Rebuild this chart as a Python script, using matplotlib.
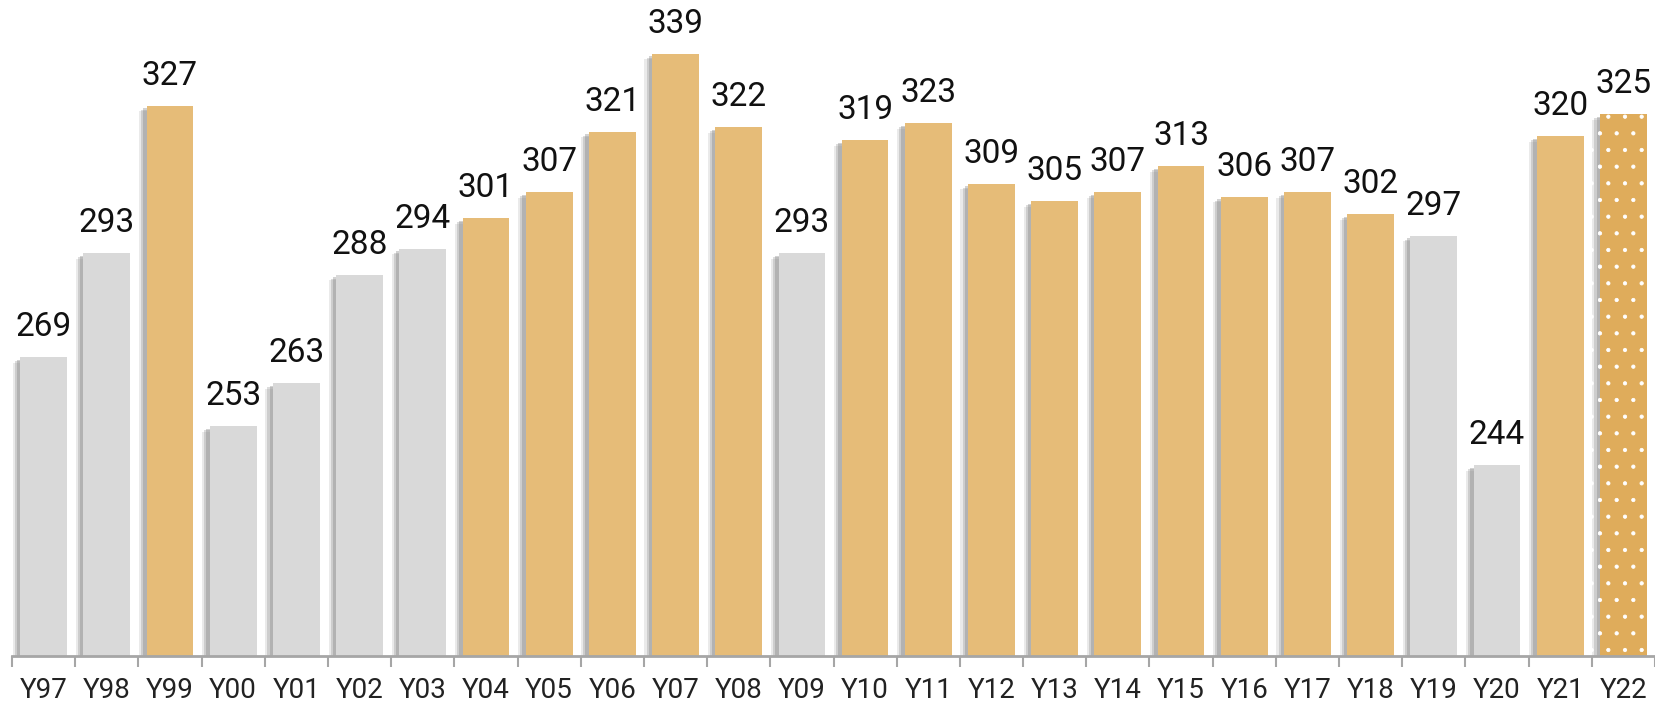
import numpy as np
import matplotlib.pyplot as plt
import matplotlib.patheffects as pe

plt.rcParams['font.family'] = ['Roboto', 'DejaVu Sans']
plt.rcParams['hatch.linewidth'] = 0.6

years = ['Y97', 'Y98', 'Y99', 'Y00', 'Y01', 'Y02', 'Y03', 'Y04', 'Y05', 'Y06',
         'Y07', 'Y08', 'Y09', 'Y10', 'Y11', 'Y12', 'Y13', 'Y14', 'Y15', 'Y16',
         'Y17', 'Y18', 'Y19', 'Y20', 'Y21', 'Y22']
values = [269, 293, 327, 253, 263, 288, 294, 301, 307, 321,
          339, 322, 293, 319, 323, 309, 305, 307, 313, 306,
          307, 302, 297, 244, 320, 325]
grey_years = ['Y97', 'Y98', 'Y00', 'Y01', 'Y02', 'Y03', 'Y09', 'Y19', 'Y20']
dotted_years = ['Y22']

grey = '#d9d9d9'
gold = '#e6bc78'
gold_dark = '#dfac5b'

fig = plt.figure(figsize=(16.55, 7.05), dpi=100)
ax = fig.add_axes([12/1655, 49/705, 1643/1655, 650/705])

x = np.arange(len(years))
# soft-ish shadow on the left/bottom, stacked layers
shadow = [pe.SimplePatchShadow(offset=(-5.5, -4), shadow_rgbFace='#9a9a9a', alpha=0.2),
          pe.SimplePatchShadow(offset=(-4, -3), shadow_rgbFace='#8c8c8c', alpha=0.3),
          pe.SimplePatchShadow(offset=(-2.5, -2), shadow_rgbFace='#808080', alpha=0.35),
          pe.Normal()]
for i, (yr, v) in enumerate(zip(years, values)):
    if yr in dotted_years:
        b = ax.bar(i, v - 200, bottom=200, width=0.74, color=gold_dark,
                   hatch='.', edgecolor='white', linewidth=0)
    else:
        c = grey if yr in grey_years else gold
        b = ax.bar(i, v - 200, bottom=200, width=0.74, color=c, linewidth=0)
    b[0].set_path_effects(shadow)
    ax.annotate(str(v), (i, v), xytext=(0, 10), textcoords='offset points',
                ha='center', va='bottom', fontsize=24, color='#111111')

ax.set_xlim(-0.5, 25.37)
ax.set_ylim(200, 350)
ax.set_yticks([])
ax.set_xticks(x)
ax.set_xticklabels(years, fontsize=20, color='#222222')
ax.set_xticks(np.arange(-0.5, len(years), 1), minor=True)
ax.tick_params(axis='x', which='major', length=0, pad=15)
ax.tick_params(axis='x', which='minor', length=8, width=1.5, color='#a6a6a6')
for s in ['top', 'right', 'left']:
    ax.spines[s].set_visible(False)
ax.spines['bottom'].set_color('#a6a6a6')
ax.spines['bottom'].set_linewidth(2)

fig.savefig('out.png', dpi=100)
